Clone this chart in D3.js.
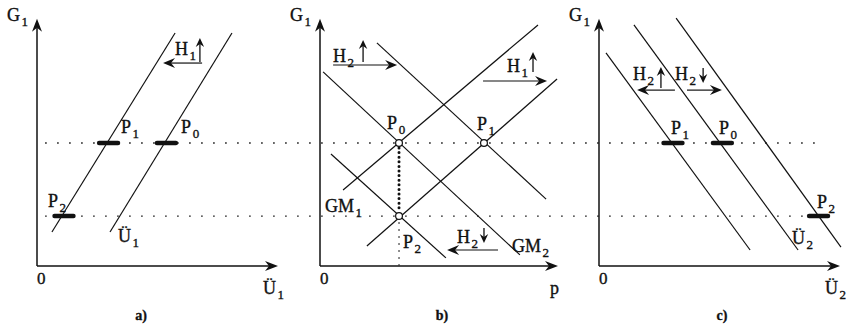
<!DOCTYPE html>
<html>
<head>
<meta charset="utf-8">
<script src="https://cdn.jsdelivr.net/npm/d3@7"></script>
<style>
  html, body { margin: 0; padding: 0; background: #fff; }
  svg { display: block; }
  text { font-family: "Liberation Serif", "Times New Roman", serif; fill: #111; stroke: #111; stroke-width: 0.35px; }
</style>
</head>
<body>
<svg id="chart" width="851" height="332"></svg>
<script>
// G1 levels shared by the three panels: P0/P1 level and P2 level
const levels = [5.0, 2.03];

// a) curves in the (Ü1, G1) plane, end points as [x, G1]
const curvesA = [
  [[0.62, 1.38], [5.73, 9.47]],
  [[3.03, 1.38], [8.09, 9.47]]
];
// equilibrium markers on the curves: [x, level index]
const pointsA = [
  { name: "P", sub: "1", x: 2.97, level: 0, lx: 3.49, lg: 5.41 },
  { name: "P", sub: "0", x: 5.37, level: 0, lx: 5.98, lg: 5.41 },
  { name: "P", sub: "2", x: 1.12, level: 1, lx: 0.46, lg: 2.40 }
];
const curveLabelsA = [{ name: "Ü", sub: "1", lx: 3.36, lg: 0.98 }];
const shiftsA = [
  { sub: "1", dir: "up", from: 6.85, to: 5.23, g: 8.25, lx: 5.73, lg: 8.58, vx: 6.76, v0: 8.29, v1: 9.27 }
];

// b) curves in the (p, G1) plane
const curvesB = [
  [[0.97, 3.09], [9.16, 9.80]],
  [[1.97, 0.81], [9.96, 7.60]],
  [[2.39, 9.07], [9.50, 2.72]],
  [[0.13, 7.89], [8.40, 0.45]],
  [[0.46, 4.55], [5.29, 0.33]]
];
const pointsB = [
  { name: "P", sub: "0", x: 3.32, level: 0, lx: 2.82, lg: 5.57 },
  { name: "P", sub: "1", x: 6.89, level: 0, lx: 6.60, lg: 5.53 },
  { name: "P", sub: "2", x: 3.32, level: 1, lx: 3.49, lg: 0.73 }
];
const curveLabelsB = [
  { name: "GM", sub: "1", lx: 0.21, lg: 2.20 },
  { name: "GM", sub: "2", lx: 8.07, lg: 0.57 }
];
const shiftsB = [
  { sub: "2", dir: "up",   from: 0.55, to: 3.24, g: 8.17, lx: 0.55, lg: 8.29, vx: 1.81, v0: 8.29, v1: 9.19 },
  { sub: "1", dir: "up",   from: 6.85, to: 9.54, g: 7.52, lx: 7.86, lg: 7.89, vx: 8.95, v0: 7.89, v1: 8.70 },
  { sub: "2", dir: "down", from: 7.48, to: 5.34, g: 0.65, lx: 5.76, lg: 0.93, vx: 6.89, v0: 1.54, v1: 0.93 }
];

// c) curves in the (Ü2, G1) plane
const curvesC = [
  [[0.29, 8.66], [6.27, 0.65]],
  [[1.45, 9.80], [8.26, 0.65]],
  [[3.20, 10.08], [10.04, 0.77]]
];
const pointsC = [
  { name: "P", sub: "1", x: 3.07, level: 0, lx: 2.99, lg: 5.37 },
  { name: "P", sub: "0", x: 5.12, level: 0, lx: 4.98, lg: 5.37 },
  { name: "P", sub: "2", x: 9.11, level: 1, lx: 9.05, lg: 2.36 }
];
const curveLabelsC = [{ name: "Ü", sub: "2", lx: 8.01, lg: 0.89 }];
const shiftsC = [
  { sub: "2", dir: "up",   from: 3.15, to: 1.58, g: 7.15, lx: 1.41, lg: 7.56, vx: 2.57, v0: 7.24, v1: 8.09 },
  { sub: "2", dir: "down", from: 3.65, to: 5.10, g: 7.15, lx: 3.15, lg: 7.56, vx: 4.32, v0: 8.05, v1: 7.44 }
];

const axisTitles = [
  { y: "G", ySub: "1", x: "Ü", xSub: "1", caption: "a)" },
  { y: "G", ySub: "1", x: "p", xSub: "",  caption: "b)" },
  { y: "G", ySub: "1", x: "Ü", xSub: "2", caption: "c)" }
];

const svg = d3.select("#chart");
const ink = "#111";

const y = d3.scaleLinear().domain([0, 10]).range([266, 20]);

const panels = [
  { x: d3.scaleLinear().domain([0, 10]).range([37, 278]), curves: curvesA, points: pointsA, curveLabels: curveLabelsA, shifts: shiftsA, marks: "bar", capX: 141 },
  { x: d3.scaleLinear().domain([0, 10]).range([320, 558]), curves: curvesB, points: pointsB, curveLabels: curveLabelsB, shifts: shiftsB, marks: "ring", capX: 442 },
  { x: d3.scaleLinear().domain([0, 10]).range([599, 840]), curves: curvesC, points: pointsC, curveLabels: curveLabelsC, shifts: shiftsC, marks: "bar", capX: 722 }
];

function head(g, x, yy, angle, len, hw, notch) {
  g.append("path")
    .attr("d", `M0,0 L${-len},${-hw} L${-notch},0 L${-len},${hw} Z`)
    .attr("transform", `translate(${x},${yy}) rotate(${angle})`)
    .attr("fill", ink);
}

function arrow(g, x0, y0, x1, y1, len, hw, notch, width) {
  const a = Math.atan2(y1 - y0, x1 - x0);
  const ex = x1 - Math.cos(a) * notch, ey = y1 - Math.sin(a) * notch;
  g.append("line").attr("x1", x0).attr("y1", y0).attr("x2", ex).attr("y2", ey)
    .attr("stroke", ink).attr("stroke-width", width);
  head(g, x1, y1, a * 180 / Math.PI, len, hw, notch);
}

function label(g, x, yy, main, sub, size, subSize, anchor) {
  const t = g.append("text").attr("x", x).attr("y", yy)
    .attr("text-anchor", anchor || "start")
    .style("font-size", size + "px");
  t.append("tspan").text(main);
  if (sub) t.append("tspan").attr("dx", 1.5).attr("dy", 5).style("font-size", subSize + "px").text(sub);
  return t;
}

// dotted guide lines at the two G1 levels, running across all panels
const guideEnds = [818, 808];
levels.forEach((lv, i) => {
  svg.append("line")
    .attr("x1", 45).attr("x2", guideEnds[i])
    .attr("y1", y(lv)).attr("y2", y(lv))
    .attr("stroke", "#333").attr("stroke-width", 1.3)
    .attr("stroke-dasharray", "1.8,10.2");
});

panels.forEach((p, i) => {
  const g = svg.append("g");
  const x = p.x;
  const x0 = x(0), x1 = x.range()[1], y0 = y(0);
  const t = axisTitles[i];

  // axes with arrow heads
  arrow(g, x0, y0, x0, y(10.05), 13, 5, 9, 1.5);
  arrow(g, x0, y0, x1, y0, 13, 5, 9, 1.5);

  label(g, x0 - 30, 21, t.y, t.ySub, 18, 13);
  g.append("text").attr("x", x0).attr("y", 284).style("font-size", "17px").text("0");
  if (t.xSub) label(g, x1 - 15, 294, t.x, t.xSub, 18, 13);
  else g.append("text").attr("x", x1 - 8).attr("y", 294).style("font-size", "18px").text(t.x);
  g.append("text").attr("x", p.capX).attr("y", 320).attr("text-anchor", "middle")
    .style("font-size", "14px").style("font-weight", "bold").text(t.caption);

  // curves
  p.curves.forEach(c => {
    g.append("line")
      .attr("x1", x(c[0][0])).attr("y1", y(c[0][1]))
      .attr("x2", x(c[1][0])).attr("y2", y(c[1][1]))
      .attr("stroke", ink).attr("stroke-width", 1.2);
  });

  // panel b: link between P0 and P2, and drop line from P2 to the p axis
  if (p.marks === "ring") {
    const top = p.points[0], bot = p.points[2];
    g.append("line")
      .attr("x1", x(top.x)).attr("x2", x(bot.x))
      .attr("y1", y(levels[top.level]) + 5).attr("y2", y(levels[bot.level]) - 4)
      .attr("stroke", ink).attr("stroke-width", 3).attr("stroke-linecap", "round")
      .attr("stroke-dasharray", "0,4.6");
    g.append("line")
      .attr("x1", x(bot.x)).attr("x2", x(bot.x))
      .attr("y1", y(levels[bot.level]) + 6).attr("y2", y0)
      .attr("stroke", "#333").attr("stroke-width", 1.1)
      .attr("stroke-dasharray", "2,5");
  }

  // equilibrium points
  p.points.forEach(pt => {
    const px = x(pt.x), py = y(levels[pt.level]);
    if (p.marks === "bar") {
      g.append("line").attr("x1", px - 9.5).attr("x2", px + 9.5).attr("y1", py).attr("y2", py)
        .attr("stroke", ink).attr("stroke-width", 4.4).attr("stroke-linecap", "round");
    } else {
      g.append("circle").attr("cx", px).attr("cy", py).attr("r", 3.4)
        .attr("fill", "#fff").attr("stroke", ink).attr("stroke-width", 1.2);
    }
    label(g, x(pt.lx), y(pt.lg), pt.name, pt.sub, 18, 13);
  });

  p.curveLabels.forEach(cl => label(g, x(cl.lx), y(cl.lg), cl.name, cl.sub, 18, 13));

  // shift annotations: horizontal arrow, label and small vertical arrow
  p.shifts.forEach(s => {
    arrow(g, x(s.from), y(s.g), x(s.to), y(s.g), 12, 5, 8, 1.2);
    label(g, x(s.lx), y(s.lg), "H", s.sub, 18, 13);
    arrow(g, x(s.vx), y(s.v0), x(s.vx), y(s.v1), 9, 4.2, 6, 1.3);
  });
});
</script>
</body>
</html>
